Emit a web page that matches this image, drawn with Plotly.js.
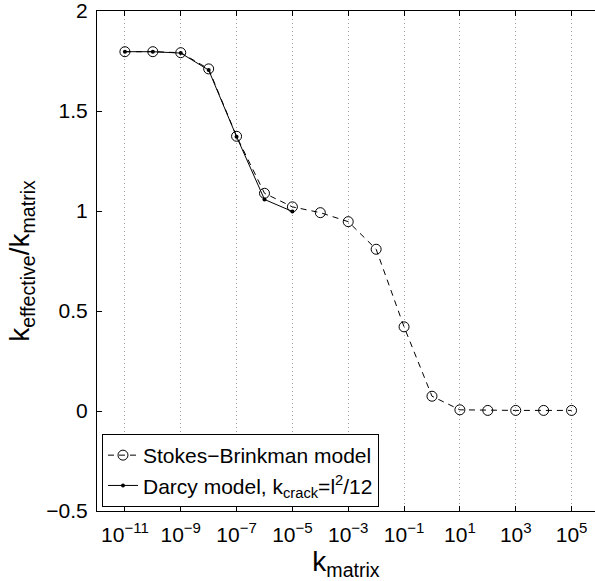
<!DOCTYPE html>
<html>
<head>
<meta charset="utf-8">
<script src="https://cdn.plot.ly/plotly-3.0.1.min.js"></script>
<style>html,body{margin:0;padding:0;background:#fff;overflow:hidden;}#chart{width:595px;height:581px;}</style>
</head>
<body>
<div id="chart"></div>
<script>
const kStokes = [1e-11,1e-10,1e-9,1e-8,1e-7,1e-6,1e-5,1e-4,1e-3,1e-2,1e-1,1e0,1e1,1e2,1e3,1e4,1e5];
const ratioStokes = [1.797,1.797,1.792,1.711,1.374,1.089,1.021,0.992,0.947,0.809,0.421,0.074,0.006,0.003,0.003,0.003,0.003];
const kDarcy = [1e-11,1e-10,1e-9,1e-8,1e-7,1e-6,1e-5];
const ratioDarcy = [1.797,1.797,1.790,1.705,1.372,1.058,0.998];
const xTickVals = [1e-11,1e-9,1e-7,1e-5,1e-3,1e-1,1e1,1e3,1e5];
const xTickExps = ['\u221211','\u22129','\u22127','\u22125','\u22123','\u22121','1','3','5'];
const yTickVals = [-0.5,0,0.5,1,1.5,2];
const yTickText = ['\u22120.5','0','0.5','1','1.5','2'];

const font = 'Liberation Sans, Arial, Helvetica, sans-serif';
const xTickText = xTickExps.map(e => '10<sup><span style="font-size:15px">' + e + '</span></sup>');

const traces = [
  {x: kStokes, y: ratioStokes, type: 'scatter', mode: 'lines+markers',
   name: 'Stokes\u2212Brinkman model',
   line: {color: '#000', width: 1, dash: '6px,5px'},
   marker: {symbol: 'circle-open', size: 10, color: '#000', line: {width: 1, color: '#000'}}},
  {x: kDarcy, y: ratioDarcy, type: 'scatter', mode: 'lines+markers',
   name: 'Darcy model, k<sub>crack</sub>=l<sup>2</sup>/12',
   line: {color: '#000', width: 1},
   marker: {symbol: 'circle', size: 4, color: '#000'}}
];
const layout = {
  width: 595, height: 581,
  margin: {l: 97, r: 0, t: 11, b: 70},
  paper_bgcolor: '#fff', plot_bgcolor: '#fff',
  font: {family: font, color: '#000', size: 21},
  showlegend: true,
  legend: {x: 0.01, y: 0.008, xanchor: 'left', yanchor: 'bottom',
    bordercolor: '#000', borderwidth: 1, bgcolor: '#fff',
    font: {family: font, size: 21, color: '#000'}, tracegroupgap: 0},
  xaxis: {type: 'log', range: [-12, 5.84], tickmode: 'array',
    tickvals: xTickVals, ticktext: xTickText, ticklabelstandoff: 5,
    showgrid: true, gridcolor: '#999', griddash: '1px,3px', gridwidth: 1,
    ticks: 'inside', ticklen: 5, tickcolor: '#000', mirror: 'ticks',
    showline: true, linecolor: '#000', linewidth: 1, zeroline: false,
    tickfont: {family: font, size: 21, color: '#000'},
    title: {text: 'k<sub>matrix</sub>', font: {family: font, size: 28, color: '#000'}, standoff: 0}},
  yaxis: {range: [-0.5, 2.0005], tickmode: 'array', tickvals: yTickVals, ticktext: yTickText,
    ticklabeloverflow: 'allow', ticklabelstandoff: 4,
    showgrid: false,
    ticks: 'inside', ticklen: 5, tickcolor: '#000',
    showline: true, linecolor: '#000', linewidth: 1, zeroline: false, mirror: false,
    tickfont: {family: font, size: 21, color: '#000'},
    title: {text: 'k<sub>effective</sub>/k<sub>matrix</sub>', font: {family: font, size: 28, color: '#000'}, standoff: 8}}
};
Plotly.newPlot('chart', traces, layout, {staticPlot: true, displayModeBar: false}).then(() => {
  // Hide the stray line at the far right edge of the plot area (no right axis in the reference).
  document.querySelectorAll('.xlines-above, .ylines-above').forEach(p => {
    const d = p.getAttribute('d');
    if (d) p.setAttribute('data-d', d);
  });
});
</script>
</body>
</html>
